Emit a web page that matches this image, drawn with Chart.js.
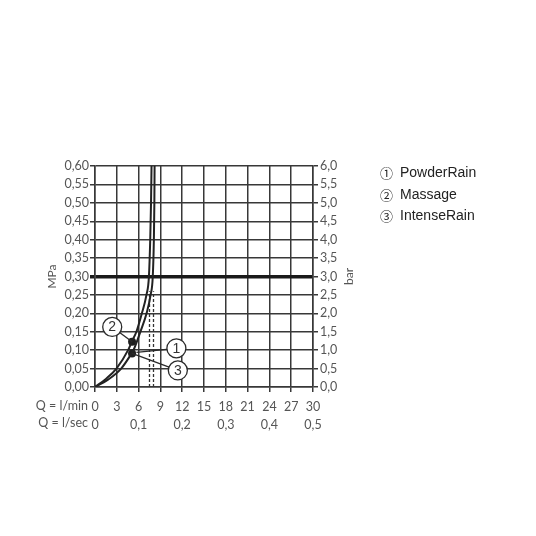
<!DOCTYPE html>
<html>
<head>
<meta charset="utf-8">
<script src="https://cdn.jsdelivr.net/npm/chart.js@4.4.1/dist/chart.umd.min.js"></script>
<style>
  html, body { margin: 0; padding: 0; background: #fff; }
  canvas { display: block; }
</style>
</head>
<body>
<canvas id="flowChart" width="536" height="536"></canvas>
<script>
// flow (l/min) against pressure (MPa)
const massageFlow     = [0, 1.5,   2.95, 4.55, 5.1,   5.7,  6.45, 7.08, 7.42, 7.6,  7.71, 7.78];
const massagePressure = [0, 0.022, 0.05, 0.10, 0.125, 0.15, 0.20, 0.25, 0.30, 0.40, 0.50, 0.60];
const rainFlow        = [0, 1.8,   3.6,  5.0,  5.3,  6.25, 7.1,  7.65, 7.95, 8.1,  8.17, 8.2];
const rainPressure    = [0, 0.02,  0.05, 0.09, 0.10, 0.15, 0.20, 0.25, 0.30, 0.40, 0.50, 0.60];

// dashed flow limiter lines
const limiterFlow = [7.5, 8.05];
const limiterTop = 0.26;

// marked operating points
const dotFlow = [5.1, 5.1];
const dotPressure = [0.1226, 0.091];

// numbered callouts and where their leaders point
const calloutNames = ['1', '2', '3'];
const calloutFlow = [11.2, 2.37, 11.4];
const calloutPressure = [0.105, 0.163, 0.045];
const calloutTargetFlow = [5.7, 5.1, 5.1];
const calloutTargetPressure = [0.094, 0.1226, 0.091];

const legendLabels = ['① PowderRain', '② Massage', '③ IntenseRain'];

// tick labels
const mpaTicks = [0, 0.05, 0.10, 0.15, 0.20, 0.25, 0.30, 0.35, 0.40, 0.45, 0.50, 0.55, 0.60];
const barTicks = [0, 0.5, 1, 1.5, 2, 2.5, 3, 3.5, 4, 4.5, 5, 5.5, 6];
const lminTicks = [0, 3, 6, 9, 12, 15, 18, 21, 24, 27, 30];
const lsecTicks = [0, 0.1, 0.2, 0.3, 0.4, 0.5];

const gridColor = '#383838';
const labelColor = '#555';
const tickFont = { family: 'Lato', size: 12.5 };

const comma = (v, digits) => v.toFixed(digits).replace('.', ',');
const useTicks = list => scale => { scale.ticks = list.map(v => ({ value: v })); };
const toPoints = (xs, ys) => xs.map((q, i) => ({ x: q, y: ys[i] }));

const overlayPlugin = {
    id: 'overlay',
    afterDatasetsDraw(chart) {
        const { ctx, chartArea } = chart;
        const x = chart.scales.x, y = chart.scales.y;
        ctx.save();

        // leader lines
        ctx.strokeStyle = '#2a2a2a';
        ctx.lineWidth = 1.3;
        calloutNames.forEach((n, i) => {
            ctx.beginPath();
            ctx.moveTo(x.getPixelForValue(calloutFlow[i]), y.getPixelForValue(calloutPressure[i]));
            ctx.lineTo(x.getPixelForValue(calloutTargetFlow[i]), y.getPixelForValue(calloutTargetPressure[i]));
            ctx.stroke();
        });

        // callout circles
        ctx.font = '14px "Liberation Sans"';
        ctx.textAlign = 'center';
        ctx.textBaseline = 'middle';
        calloutNames.forEach((n, i) => {
            const cx = x.getPixelForValue(calloutFlow[i]);
            const cy = y.getPixelForValue(calloutPressure[i]);
            ctx.beginPath();
            ctx.arc(cx, cy, 9.5, 0, Math.PI * 2);
            ctx.fillStyle = '#fff';
            ctx.fill();
            ctx.stroke();
            ctx.fillStyle = '#333';
            ctx.fillText(n, cx, cy + 0.5);
        });

        // axis titles
        ctx.fillStyle = labelColor;
        ctx.font = '12px Lato';
        const midY = (chartArea.top + chartArea.bottom) / 2;
        [['MPa', 52], ['bar', 349]].forEach(([t, px]) => {
            ctx.save();
            ctx.translate(px, midY);
            ctx.rotate(-Math.PI / 2);
            ctx.fillText(t, 0, 0);
            ctx.restore();
        });

        // row titles for the two flow scales
        ctx.font = '12.5px Lato';
        ctx.textAlign = 'right';
        ctx.fillText('Q = l/min', chartArea.left - 7, chartArea.bottom + 19);
        ctx.fillText('Q = l/sec', chartArea.left - 7, chartArea.bottom + 36);

        // legend
        ctx.textAlign = 'left';
        ctx.fillStyle = '#222';
        legendLabels.forEach((t, i) => {
            const ly = 173 + i * 21.7;
            ctx.font = '13px "Noto Sans CJK JP"';
            ctx.fillText(t.charAt(0), 380, ly);
            ctx.font = '14px "Liberation Sans"';
            ctx.fillText(t.slice(2), 400, ly);
        });

        ctx.restore();
    }
};

const ctx = document.getElementById('flowChart').getContext('2d');

new Chart(ctx, {
    type: 'scatter',
    data: {
        datasets: [
            {
                label: 'Massage',
                data: toPoints(massageFlow, massagePressure),
                showLine: true,
                borderColor: '#222',
                borderWidth: 2,
                pointRadius: 0,
                cubicInterpolationMode: 'monotone'
            },
            {
                label: 'PowderRain / IntenseRain',
                data: toPoints(rainFlow, rainPressure),
                showLine: true,
                borderColor: '#222',
                borderWidth: 2,
                pointRadius: 0,
                cubicInterpolationMode: 'monotone'
            },
            ...limiterFlow.map(q => ({
                label: 'limiter',
                data: [{ x: q, y: 0 }, { x: q, y: limiterTop }],
                showLine: true,
                borderColor: '#333',
                borderWidth: 1.3,
                borderDash: [3, 2],
                pointRadius: 0
            })),
            {
                label: 'points',
                data: toPoints(dotFlow, dotPressure),
                showLine: false,
                pointRadius: 4,
                pointBackgroundColor: '#1e1e1e',
                pointBorderWidth: 0
            }
        ]
    },
    options: {
        responsive: false,
        animation: false,
        layout: { padding: { top: 166, bottom: 105, left: 0, right: 0 } },
        plugins: { legend: { display: false }, tooltip: { enabled: false } },
        scales: {
            x: {
                type: 'linear', position: 'bottom', min: 0, max: 30, weight: 0,
                afterBuildTicks: useTicks(lminTicks),
                afterFit: s => { s.height = 24; },
                grid: { color: gridColor, lineWidth: 1.5, tickLength: 5 },
                border: { color: gridColor, width: 1.5 },
                ticks: { color: labelColor, font: tickFont, padding: 7, maxRotation: 0, autoSkip: false,
                         callback: v => String(v) }
            },
            x2: {
                type: 'linear', position: 'bottom', min: 0, max: 0.5, weight: 1,
                afterBuildTicks: useTicks(lsecTicks),
                afterFit: s => { s.height = 20; },
                grid: { display: false, drawTicks: false },
                border: { display: false },
                ticks: { color: labelColor, font: tickFont, padding: 6, maxRotation: 0, autoSkip: false,
                         callback: v => v === 0 ? '0' : comma(v, 1) }
            },
            y: {
                type: 'linear', position: 'left', min: 0, max: 0.6,
                afterBuildTicks: useTicks(mpaTicks),
                afterFit: s => { s.width = 95; },
                grid: {
                    color: c => Math.abs(c.tick.value - 0.3) < 1e-6 ? '#1a1a1a' : gridColor,
                    lineWidth: c => Math.abs(c.tick.value - 0.3) < 1e-6 ? 3.5 : 1.5,
                    tickLength: 5
                },
                border: { color: gridColor, width: 1.5 },
                ticks: { color: labelColor, font: tickFont, padding: 1, autoSkip: false,
                         callback: v => comma(v, 2) }
            },
            y2: {
                type: 'linear', position: 'right', min: 0, max: 6,
                afterBuildTicks: useTicks(barTicks),
                afterFit: s => { s.width = 223; },
                grid: { drawOnChartArea: false, color: gridColor, lineWidth: 1.5, tickLength: 5 },
                border: { color: gridColor, width: 1.5 },
                ticks: { color: labelColor, font: tickFont, padding: 2, autoSkip: false,
                         callback: v => comma(v, 1) }
            }
        }
    },
    plugins: [overlayPlugin]
});
</script>
</body>
</html>
